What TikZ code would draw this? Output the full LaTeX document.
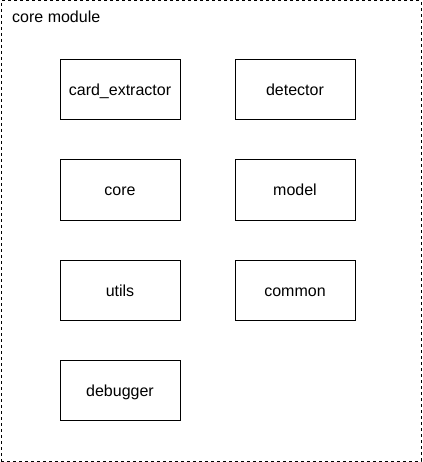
\documentclass[tikz,border=0pt]{standalone}
\usepackage{fontspec}
\setmainfont{Liberation Sans}
\begin{document}
\begin{tikzpicture}[x=1pt,y=-1pt,
  lbl/.style={font=\fontsize{16}{19}\selectfont},
  mod/.style={lbl,draw=black,fill=white,line width=1pt,minimum width=120pt,minimum height=60pt,inner sep=0pt,text height=13.5pt,text depth=1.5pt},
  frame/.style={draw=black,line width=1pt,dash pattern=on 3pt off 3pt}]
\useasboundingbox (0,0) rectangle (422,462);
\node[frame,minimum width=420pt,minimum height=460pt,inner sep=0pt] (outer) at (211,231) {};
\node[lbl,anchor=base west,inner sep=0pt] (title) at (12,22.5) {core module};
\node[mod] (card) at (120,90) {card\_extractor};
\node[mod] (detector) at (295,90) {detector};
\node[mod] (core) at (120,190) {core};
\node[mod] (model) at (295,190) {model};
\node[mod] (utils) at (120,290) {utils};
\node[mod] (common) at (295,290) {common};
\node[mod] (debugger) at (120,390) {debugger};
\end{tikzpicture}
\end{document}
